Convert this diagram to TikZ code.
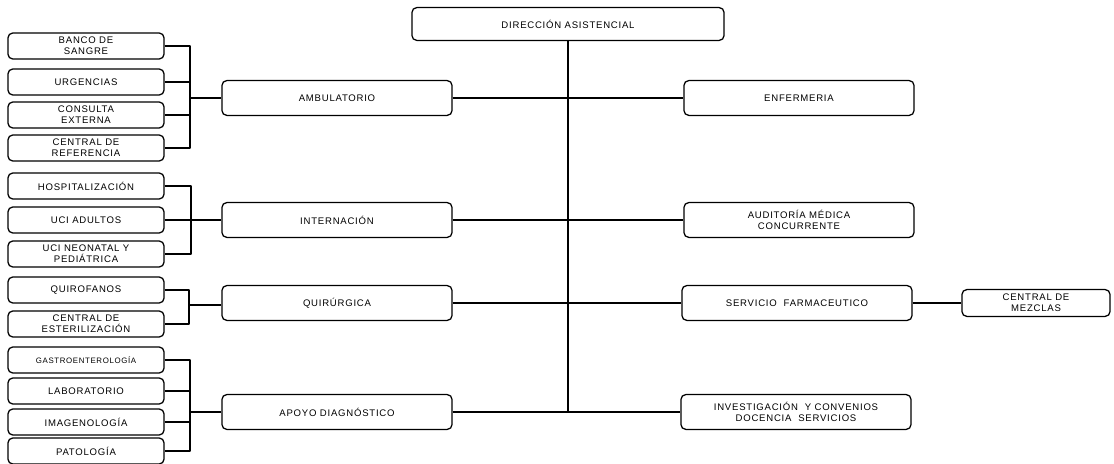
\documentclass[tikz,border=0pt]{standalone}
\usepackage{fontspec}
\newfontfamily\orgfont[LetterSpace=8]{Liberation Sans}
\usetikzlibrary{calc}

\tikzset{
  unit/.style={draw,rounded corners=1.2mm,line width=0.9pt,align=center,inner sep=1pt,
    font=\orgfont\fontsize{6.8}{8}\selectfont},
  mainunit/.style={unit,minimum width=5.75cm,minimum height=0.87cm},
  subunit/.style={unit,minimum width=3.9cm,minimum height=0.65cm},
  link/.style={line width=1.1pt},
  brace/.style={line width=1.8pt,line join=round}
}

\begin{document}
\begin{tikzpicture}[x=0.025cm,y=-0.025cm]
\useasboundingbox (0,0) rectangle (1114,464);

% direccion and spine
\node (dir) [unit,minimum width=7.8cm,minimum height=0.82cm] at (568,24) {DIRECCI\'ON ASISTENCIAL};

% middle column
\node (ambul) [mainunit] at (337,98) {AMBULATORIO};
\node (intern) [mainunit] at (337,220) {INTERNACI\'ON};
\node (quir) [mainunit] at (337,303) {QUIR\'URGICA};
\node (apoyo) [mainunit] at (337,412) {APOYO DIAGN\'OSTICO};

% right column
\node (enferm) [mainunit] at (799,98) {ENFERMERIA};
\node (audit) [mainunit] at (799,220) {AUDITOR\'IA M\'EDICA\\CONCURRENTE};
\node (farma) [mainunit] at (797,303) {SERVICIO\ \ FARMACEUTICO};
\node (invest) [mainunit] at (796,412) {INVESTIGACI\'ON\ \ Y CONVENIOS\\DOCENCIA\ \ SERVICIOS};
\node (mezclas) [unit,minimum width=3.7cm,minimum height=0.67cm] at (1036,303) {CENTRAL DE\\MEZCLAS};

% left column
\node (banco) [subunit] at (86,46) {BANCO DE\\SANGRE};
\node (urg) [subunit] at (86,82) {URGENCIAS};
\node (consulta) [subunit] at (86,115) {CONSULTA\\EXTERNA};
\node (refer) [subunit] at (86,148) {CENTRAL DE\\REFERENCIA};
\node (hosp) [subunit] at (86,186) {HOSPITALIZACI\'ON};
\node (uciad) [subunit] at (86,220) {UCI ADULTOS};
\node (ucineo) [subunit] at (86,254) {UCI NEONATAL Y\\PEDI\'ATRICA};
\node (quirof) [subunit] at (86,290) {QUIROFANOS};
\node (ester) [subunit] at (86,324) {CENTRAL DE\\ESTERILIZACI\'ON};
\node (gastro) [subunit,font=\orgfont\fontsize{5.6}{7}\selectfont] at (86,360) {GASTROENTEROLOG\'IA};
\node (lab) [subunit] at (86,391) {LABORATORIO};
\node (imagen) [subunit] at (86,422) {IMAGENOLOG\'IA};
\node (pato) [subunit] at (86,451) {PATOLOG\'IA};

% junctions of the brackets
\coordinate (jA) at (190,98);
\coordinate (jI) at (191,220);
\coordinate (jQ) at (189,305);
\coordinate (jD) at (190,412);

\draw [link] (dir.south) -- (dir.south |- apoyo.east);
\draw [link] (ambul.east)--(enferm.west);
\draw [link] (intern.east)--(audit.west);
\draw [link] (quir.east)--(farma.west);
\draw [link] (apoyo.east)--(invest.west);
\draw [link] (farma.east)--(mezclas.west);

\draw [brace] (banco.east) -| (jA) |- (refer.east);
\draw [brace] (urg.east)--(urg.east -| jA);\draw [brace] (consulta.east)--(consulta.east -| jA);
\draw [link] (jA)--(ambul.west);

\draw [brace] (hosp.east) -| (jI) |- (ucineo.east);
\draw [brace] (uciad.east)--(jI);
\draw [link] (jI)--(intern.west);

\draw [brace] (quirof.east) -| (jQ) |- (ester.east);
\draw [link] (jQ)--(jQ -| quir.west);

\draw [brace] (gastro.east) -| (jD) |- (pato.east);
\draw [brace] (lab.east)--(lab.east -| jD);\draw [brace] (imagen.east)--(imagen.east -| jD);
\draw [link] (jD)--(apoyo.west);
\end{tikzpicture}
\end{document}
